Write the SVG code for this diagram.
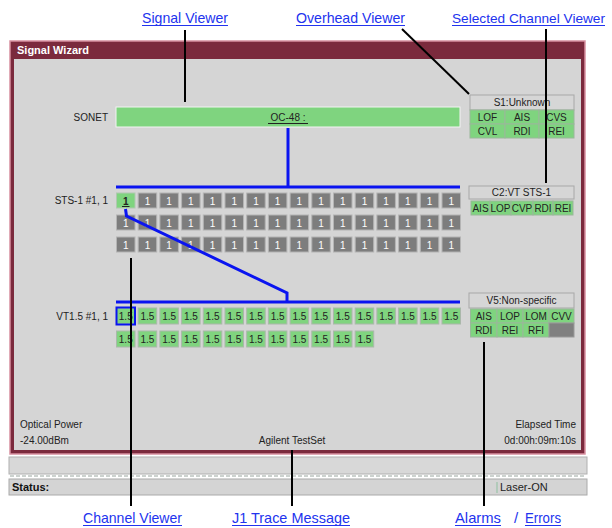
<svg xmlns="http://www.w3.org/2000/svg" width="612" height="528" viewBox="0 0 612 528">
<defs>
<style>
.lbl{font-family:"Liberation Sans",Arial,sans-serif;font-size:15px;fill:#2233ee}
.ul{stroke:#2233ee;stroke-width:1.2}
.t{font-family:"Liberation Sans",Arial,sans-serif;font-size:10px;fill:#222}
.sb{fill:#7d7d7d;stroke:#b4b4b4;stroke-width:1}
.st{font-family:"Liberation Sans",Arial,sans-serif;font-size:10px;fill:#fff;text-anchor:middle}
.vb{fill:#80d47f;stroke:#aab8aa;stroke-width:1}
.vt{font-family:"Liberation Sans",Arial,sans-serif;font-size:10px;fill:#222;text-anchor:middle}
.oh{fill:#d6d6d6;stroke:#a8a8a8;stroke-width:1}
.og{fill:#7fd47f;stroke:#9ab89a;stroke-width:1}
.ot{font-family:"Liberation Sans",Arial,sans-serif;font-size:10px;fill:#222;text-anchor:middle}
.blue{stroke:#0a14f0;stroke-width:3;fill:none}
.call{stroke:#000;stroke-width:2;fill:none}
</style>
</defs>
<rect width="612" height="528" fill="#fff"/>

<g id="window">
<rect x="10" y="41" width="575" height="413" fill="#7b2a3d" stroke="#d890a0" stroke-width="1.5"/>
<rect x="14" y="59" width="567" height="391" fill="#d5d5d5"/>
<text x="17" y="54" font-family="'Liberation Sans',Arial,sans-serif" font-size="11" font-weight="bold" fill="#fff">Signal Wizard</text>
</g>

<g id="status-area">
<rect x="9" y="457" width="578" height="17" fill="#d8d8d8" stroke="#b0b0b0"/>
<line x1="10" y1="476" x2="586" y2="476" stroke="#9aa6a0" stroke-dasharray="4 2"/>
<rect x="9" y="479" width="578" height="16" fill="#d4d4d4" stroke="#aaaaaa"/>
<text x="12" y="491" font-family="'Liberation Sans',Arial,sans-serif" font-size="11" font-weight="bold" fill="#111">Status:</text>
<line x1="497" y1="482" x2="497" y2="493" stroke="#8fc0a0" stroke-width="1"/>
<text x="500" y="491" class="t" style="font-size:11px">Laser-ON</text>
</g>

<g id="info-texts">
<text x="20" y="428" class="t">Optical Power</text>
<text x="20" y="444" class="t">-24.00dBm</text>
<text x="292" y="444" class="t" text-anchor="middle">Agilent TestSet</text>
<text x="576" y="428" class="t" text-anchor="end">Elapsed Time</text>
<text x="576" y="444" class="t" text-anchor="end">0d:00h:09m:10s</text>
</g>

<g id="sonet">
<text x="108" y="121" class="t" text-anchor="end">SONET</text>
<rect x="116" y="107" width="344" height="20" fill="#7fd47f" stroke="#f4f4f4"/>
<text x="288" y="121" class="t" text-anchor="middle">OC-48 :</text>
<line x1="268" y1="123.5" x2="308" y2="123.5" stroke="#222" stroke-width="1"/>
</g>

<g id="sts-grid">
<text x="108" y="204" class="t" text-anchor="end">STS-1 #1, 1</text>
<rect x="116.5" y="193" width="18.5" height="15" fill="#7fd47f" stroke="#b0c8b0"/>
<text x="125.75" y="204.5" class="vt" font-weight="bold">1</text>
<line x1="122" y1="206.5" x2="129.5" y2="206.5" stroke="#222"/>
<rect x="138.2" y="193" width="18.5" height="15" class="sb"/><text x="147.45" y="204.5" class="st">1</text>
<rect x="159.9" y="193" width="18.5" height="15" class="sb"/><text x="169.15" y="204.5" class="st">1</text>
<rect x="181.6" y="193" width="18.5" height="15" class="sb"/><text x="190.85" y="204.5" class="st">1</text>
<rect x="203.3" y="193" width="18.5" height="15" class="sb"/><text x="212.55" y="204.5" class="st">1</text>
<rect x="225.0" y="193" width="18.5" height="15" class="sb"/><text x="234.25" y="204.5" class="st">1</text>
<rect x="246.7" y="193" width="18.5" height="15" class="sb"/><text x="255.95" y="204.5" class="st">1</text>
<rect x="268.4" y="193" width="18.5" height="15" class="sb"/><text x="277.65" y="204.5" class="st">1</text>
<rect x="290.1" y="193" width="18.5" height="15" class="sb"/><text x="299.35" y="204.5" class="st">1</text>
<rect x="311.8" y="193" width="18.5" height="15" class="sb"/><text x="321.05" y="204.5" class="st">1</text>
<rect x="333.5" y="193" width="18.5" height="15" class="sb"/><text x="342.75" y="204.5" class="st">1</text>
<rect x="355.2" y="193" width="18.5" height="15" class="sb"/><text x="364.45" y="204.5" class="st">1</text>
<rect x="376.9" y="193" width="18.5" height="15" class="sb"/><text x="386.15" y="204.5" class="st">1</text>
<rect x="398.6" y="193" width="18.5" height="15" class="sb"/><text x="407.85" y="204.5" class="st">1</text>
<rect x="420.3" y="193" width="18.5" height="15" class="sb"/><text x="429.55" y="204.5" class="st">1</text>
<rect x="442.0" y="193" width="18.5" height="15" class="sb"/><text x="451.25" y="204.5" class="st">1</text>

<rect x="116.5" y="215" width="18.5" height="15" class="sb"/><text x="125.75" y="226.5" class="st">1</text>
<rect x="138.2" y="215" width="18.5" height="15" class="sb"/><text x="147.45" y="226.5" class="st">1</text>
<rect x="159.9" y="215" width="18.5" height="15" class="sb"/><text x="169.15" y="226.5" class="st">1</text>
<rect x="181.6" y="215" width="18.5" height="15" class="sb"/><text x="190.85" y="226.5" class="st">1</text>
<rect x="203.3" y="215" width="18.5" height="15" class="sb"/><text x="212.55" y="226.5" class="st">1</text>
<rect x="225.0" y="215" width="18.5" height="15" class="sb"/><text x="234.25" y="226.5" class="st">1</text>
<rect x="246.7" y="215" width="18.5" height="15" class="sb"/><text x="255.95" y="226.5" class="st">1</text>
<rect x="268.4" y="215" width="18.5" height="15" class="sb"/><text x="277.65" y="226.5" class="st">1</text>
<rect x="290.1" y="215" width="18.5" height="15" class="sb"/><text x="299.35" y="226.5" class="st">1</text>
<rect x="311.8" y="215" width="18.5" height="15" class="sb"/><text x="321.05" y="226.5" class="st">1</text>
<rect x="333.5" y="215" width="18.5" height="15" class="sb"/><text x="342.75" y="226.5" class="st">1</text>
<rect x="355.2" y="215" width="18.5" height="15" class="sb"/><text x="364.45" y="226.5" class="st">1</text>
<rect x="376.9" y="215" width="18.5" height="15" class="sb"/><text x="386.15" y="226.5" class="st">1</text>
<rect x="398.6" y="215" width="18.5" height="15" class="sb"/><text x="407.85" y="226.5" class="st">1</text>
<rect x="420.3" y="215" width="18.5" height="15" class="sb"/><text x="429.55" y="226.5" class="st">1</text>
<rect x="442.0" y="215" width="18.5" height="15" class="sb"/><text x="451.25" y="226.5" class="st">1</text>

<rect x="116.5" y="237" width="18.5" height="15" class="sb"/><text x="125.75" y="248.5" class="st">1</text>
<rect x="138.2" y="237" width="18.5" height="15" class="sb"/><text x="147.45" y="248.5" class="st">1</text>
<rect x="159.9" y="237" width="18.5" height="15" class="sb"/><text x="169.15" y="248.5" class="st">1</text>
<rect x="181.6" y="237" width="18.5" height="15" class="sb"/><text x="190.85" y="248.5" class="st">1</text>
<rect x="203.3" y="237" width="18.5" height="15" class="sb"/><text x="212.55" y="248.5" class="st">1</text>
<rect x="225.0" y="237" width="18.5" height="15" class="sb"/><text x="234.25" y="248.5" class="st">1</text>
<rect x="246.7" y="237" width="18.5" height="15" class="sb"/><text x="255.95" y="248.5" class="st">1</text>
<rect x="268.4" y="237" width="18.5" height="15" class="sb"/><text x="277.65" y="248.5" class="st">1</text>
<rect x="290.1" y="237" width="18.5" height="15" class="sb"/><text x="299.35" y="248.5" class="st">1</text>
<rect x="311.8" y="237" width="18.5" height="15" class="sb"/><text x="321.05" y="248.5" class="st">1</text>
<rect x="333.5" y="237" width="18.5" height="15" class="sb"/><text x="342.75" y="248.5" class="st">1</text>
<rect x="355.2" y="237" width="18.5" height="15" class="sb"/><text x="364.45" y="248.5" class="st">1</text>
<rect x="376.9" y="237" width="18.5" height="15" class="sb"/><text x="386.15" y="248.5" class="st">1</text>
<rect x="398.6" y="237" width="18.5" height="15" class="sb"/><text x="407.85" y="248.5" class="st">1</text>
<rect x="420.3" y="237" width="18.5" height="15" class="sb"/><text x="429.55" y="248.5" class="st">1</text>
<rect x="442.0" y="237" width="18.5" height="15" class="sb"/><text x="451.25" y="248.5" class="st">1</text>
</g>

<g id="vt-grid">
<text x="108" y="320" class="t" text-anchor="end">VT1.5 #1, 1</text>
<rect x="116.5" y="308" width="18.5" height="16" class="vb"/><text x="125.75" y="320" class="vt">1.5</text>
<rect x="138.2" y="308" width="18.5" height="16" class="vb"/><text x="147.45" y="320" class="vt">1.5</text>
<rect x="159.9" y="308" width="18.5" height="16" class="vb"/><text x="169.15" y="320" class="vt">1.5</text>
<rect x="181.6" y="308" width="18.5" height="16" class="vb"/><text x="190.85" y="320" class="vt">1.5</text>
<rect x="203.3" y="308" width="18.5" height="16" class="vb"/><text x="212.55" y="320" class="vt">1.5</text>
<rect x="225.0" y="308" width="18.5" height="16" class="vb"/><text x="234.25" y="320" class="vt">1.5</text>
<rect x="246.7" y="308" width="18.5" height="16" class="vb"/><text x="255.95" y="320" class="vt">1.5</text>
<rect x="268.4" y="308" width="18.5" height="16" class="vb"/><text x="277.65" y="320" class="vt">1.5</text>
<rect x="290.1" y="308" width="18.5" height="16" class="vb"/><text x="299.35" y="320" class="vt">1.5</text>
<rect x="311.8" y="308" width="18.5" height="16" class="vb"/><text x="321.05" y="320" class="vt">1.5</text>
<rect x="333.5" y="308" width="18.5" height="16" class="vb"/><text x="342.75" y="320" class="vt">1.5</text>
<rect x="355.2" y="308" width="18.5" height="16" class="vb"/><text x="364.45" y="320" class="vt">1.5</text>
<rect x="376.9" y="308" width="18.5" height="16" class="vb"/><text x="386.15" y="320" class="vt">1.5</text>
<rect x="398.6" y="308" width="18.5" height="16" class="vb"/><text x="407.85" y="320" class="vt">1.5</text>
<rect x="420.3" y="308" width="18.5" height="16" class="vb"/><text x="429.55" y="320" class="vt">1.5</text>
<rect x="442.0" y="308" width="18.5" height="16" class="vb"/><text x="451.25" y="320" class="vt">1.5</text>

<rect x="116.5" y="331" width="18.5" height="16" class="vb"/><text x="125.75" y="343" class="vt">1.5</text>
<rect x="138.2" y="331" width="18.5" height="16" class="vb"/><text x="147.45" y="343" class="vt">1.5</text>
<rect x="159.9" y="331" width="18.5" height="16" class="vb"/><text x="169.15" y="343" class="vt">1.5</text>
<rect x="181.6" y="331" width="18.5" height="16" class="vb"/><text x="190.85" y="343" class="vt">1.5</text>
<rect x="203.3" y="331" width="18.5" height="16" class="vb"/><text x="212.55" y="343" class="vt">1.5</text>
<rect x="225.0" y="331" width="18.5" height="16" class="vb"/><text x="234.25" y="343" class="vt">1.5</text>
<rect x="246.7" y="331" width="18.5" height="16" class="vb"/><text x="255.95" y="343" class="vt">1.5</text>
<rect x="268.4" y="331" width="18.5" height="16" class="vb"/><text x="277.65" y="343" class="vt">1.5</text>
<rect x="290.1" y="331" width="18.5" height="16" class="vb"/><text x="299.35" y="343" class="vt">1.5</text>
<rect x="311.8" y="331" width="18.5" height="16" class="vb"/><text x="321.05" y="343" class="vt">1.5</text>
<rect x="333.5" y="331" width="18.5" height="16" class="vb"/><text x="342.75" y="343" class="vt">1.5</text>
<rect x="355.2" y="331" width="18.5" height="16" class="vb"/><text x="364.45" y="343" class="vt">1.5</text>
<rect x="116.5" y="307.5" width="18.5" height="17" fill="none" stroke="#0a14f0" stroke-width="2"/>
</g>

<g id="s1-viewer">
<rect x="470" y="95" width="104" height="15" class="oh"/>
<text x="522" y="106" class="ot">S1:Unknown</text>
<rect x="470" y="110" width="35" height="14" class="og"/><text x="487.5" y="121" class="ot">LOF</text>
<rect x="505" y="110" width="34" height="14" class="og"/><text x="522" y="121" class="ot">AIS</text>
<rect x="539" y="110" width="35" height="14" class="og"/><text x="556.5" y="121" class="ot">CVS</text>
<rect x="470" y="124" width="35" height="14" class="og"/><text x="487.5" y="135" class="ot">CVL</text>
<rect x="505" y="124" width="34" height="14" class="og"/><text x="522" y="135" class="ot">RDI</text>
<rect x="539" y="124" width="35" height="14" class="og"/><text x="556.5" y="135" class="ot">REI</text>
</g>

<g id="c2-viewer">
<rect x="469" y="186" width="105" height="13" class="oh"/>
<text x="521.5" y="196" class="ot">C2:VT STS-1</text>
<rect x="471" y="201" width="19" height="14" class="og"/><text x="480.5" y="212" class="ot">AIS</text>
<rect x="490" y="201" width="21" height="14" class="og"/><text x="500.5" y="212" class="ot">LOP</text>
<rect x="511" y="201" width="22" height="14" class="og"/><text x="522" y="212" class="ot">CVP</text>
<rect x="533" y="201" width="20" height="14" class="og"/><text x="543" y="212" class="ot">RDI</text>
<rect x="553" y="201" width="20" height="14" class="og"/><text x="563" y="212" class="ot">REI</text>
</g>

<g id="v5-viewer">
<rect x="469" y="293" width="105" height="15" class="oh"/>
<text x="521.5" y="304" class="ot">V5:Non-specific</text>
<rect x="470.5" y="309" width="26.5" height="14" class="og"/><text x="483.75" y="320" class="ot">AIS</text>
<rect x="497" y="309" width="26" height="14" class="og"/><text x="510" y="320" class="ot">LOP</text>
<rect x="523" y="309" width="26" height="14" class="og"/><text x="536" y="320" class="ot">LOM</text>
<rect x="549" y="309" width="25" height="14" class="og"/><text x="561.5" y="320" class="ot">CVV</text>
<rect x="470.5" y="323" width="26.5" height="14" class="og"/><text x="483.75" y="334" class="ot">RDI</text>
<rect x="497" y="323" width="26" height="14" class="og"/><text x="510" y="334" class="ot">REI</text>
<rect x="523" y="323" width="26" height="14" class="og"/><text x="536" y="334" class="ot">RFI</text>
<rect x="549" y="323" width="25" height="14" fill="#808080" stroke="#9a9a9a"/>
</g>

<g id="callout-labels">
<text x="142" y="23" class="lbl" textLength="86" lengthAdjust="spacingAndGlyphs">Signal Viewer</text>
<line x1="142" y1="25.5" x2="228" y2="25.5" class="ul"/>
<text x="296" y="23" class="lbl" textLength="109" lengthAdjust="spacingAndGlyphs">Overhead Viewer</text>
<line x1="296" y1="25.5" x2="405" y2="25.5" class="ul"/>
<text x="452" y="23" class="lbl" style="font-size:13.5px" textLength="153" lengthAdjust="spacingAndGlyphs">Selected Channel Viewer</text>
<line x1="452" y1="25.5" x2="605" y2="25.5" class="ul"/>
<text x="83" y="523" class="lbl" textLength="99" lengthAdjust="spacingAndGlyphs">Channel Viewer</text>
<line x1="83" y1="525.5" x2="182" y2="525.5" class="ul"/>
<text x="232" y="523" class="lbl" textLength="118" lengthAdjust="spacingAndGlyphs">J1 Trace Message</text>
<line x1="232" y1="525.5" x2="350" y2="525.5" class="ul"/>
<text x="455" y="523" class="lbl" textLength="46" lengthAdjust="spacingAndGlyphs">Alarms</text>
<line x1="455" y1="525.5" x2="501" y2="525.5" class="ul"/>
<text x="516" y="523" class="lbl" text-anchor="middle">/</text>
<text x="525" y="523" class="lbl" textLength="36" lengthAdjust="spacingAndGlyphs">Errors</text>
<line x1="525" y1="525.5" x2="561" y2="525.5" class="ul"/>
</g>

<g id="connectors">
<line x1="288" y1="128" x2="288" y2="187" class="blue"/>
<line x1="116" y1="187" x2="460" y2="187" class="blue"/>
<polyline points="125.5,209 126.5,216 287,293 287,302" class="blue"/>
<line x1="116" y1="302" x2="460" y2="302" class="blue"/>
<line x1="185" y1="30" x2="185" y2="102" class="call"/>
<line x1="402" y1="29" x2="469" y2="94" class="call"/>
<line x1="546" y1="29" x2="546" y2="183" class="call"/>
<line x1="131" y1="258" x2="131" y2="506" class="call"/>
<line x1="292" y1="450" x2="292" y2="506" class="call"/>
<line x1="484" y1="342" x2="484" y2="506" class="call"/>
</g>
</svg>
